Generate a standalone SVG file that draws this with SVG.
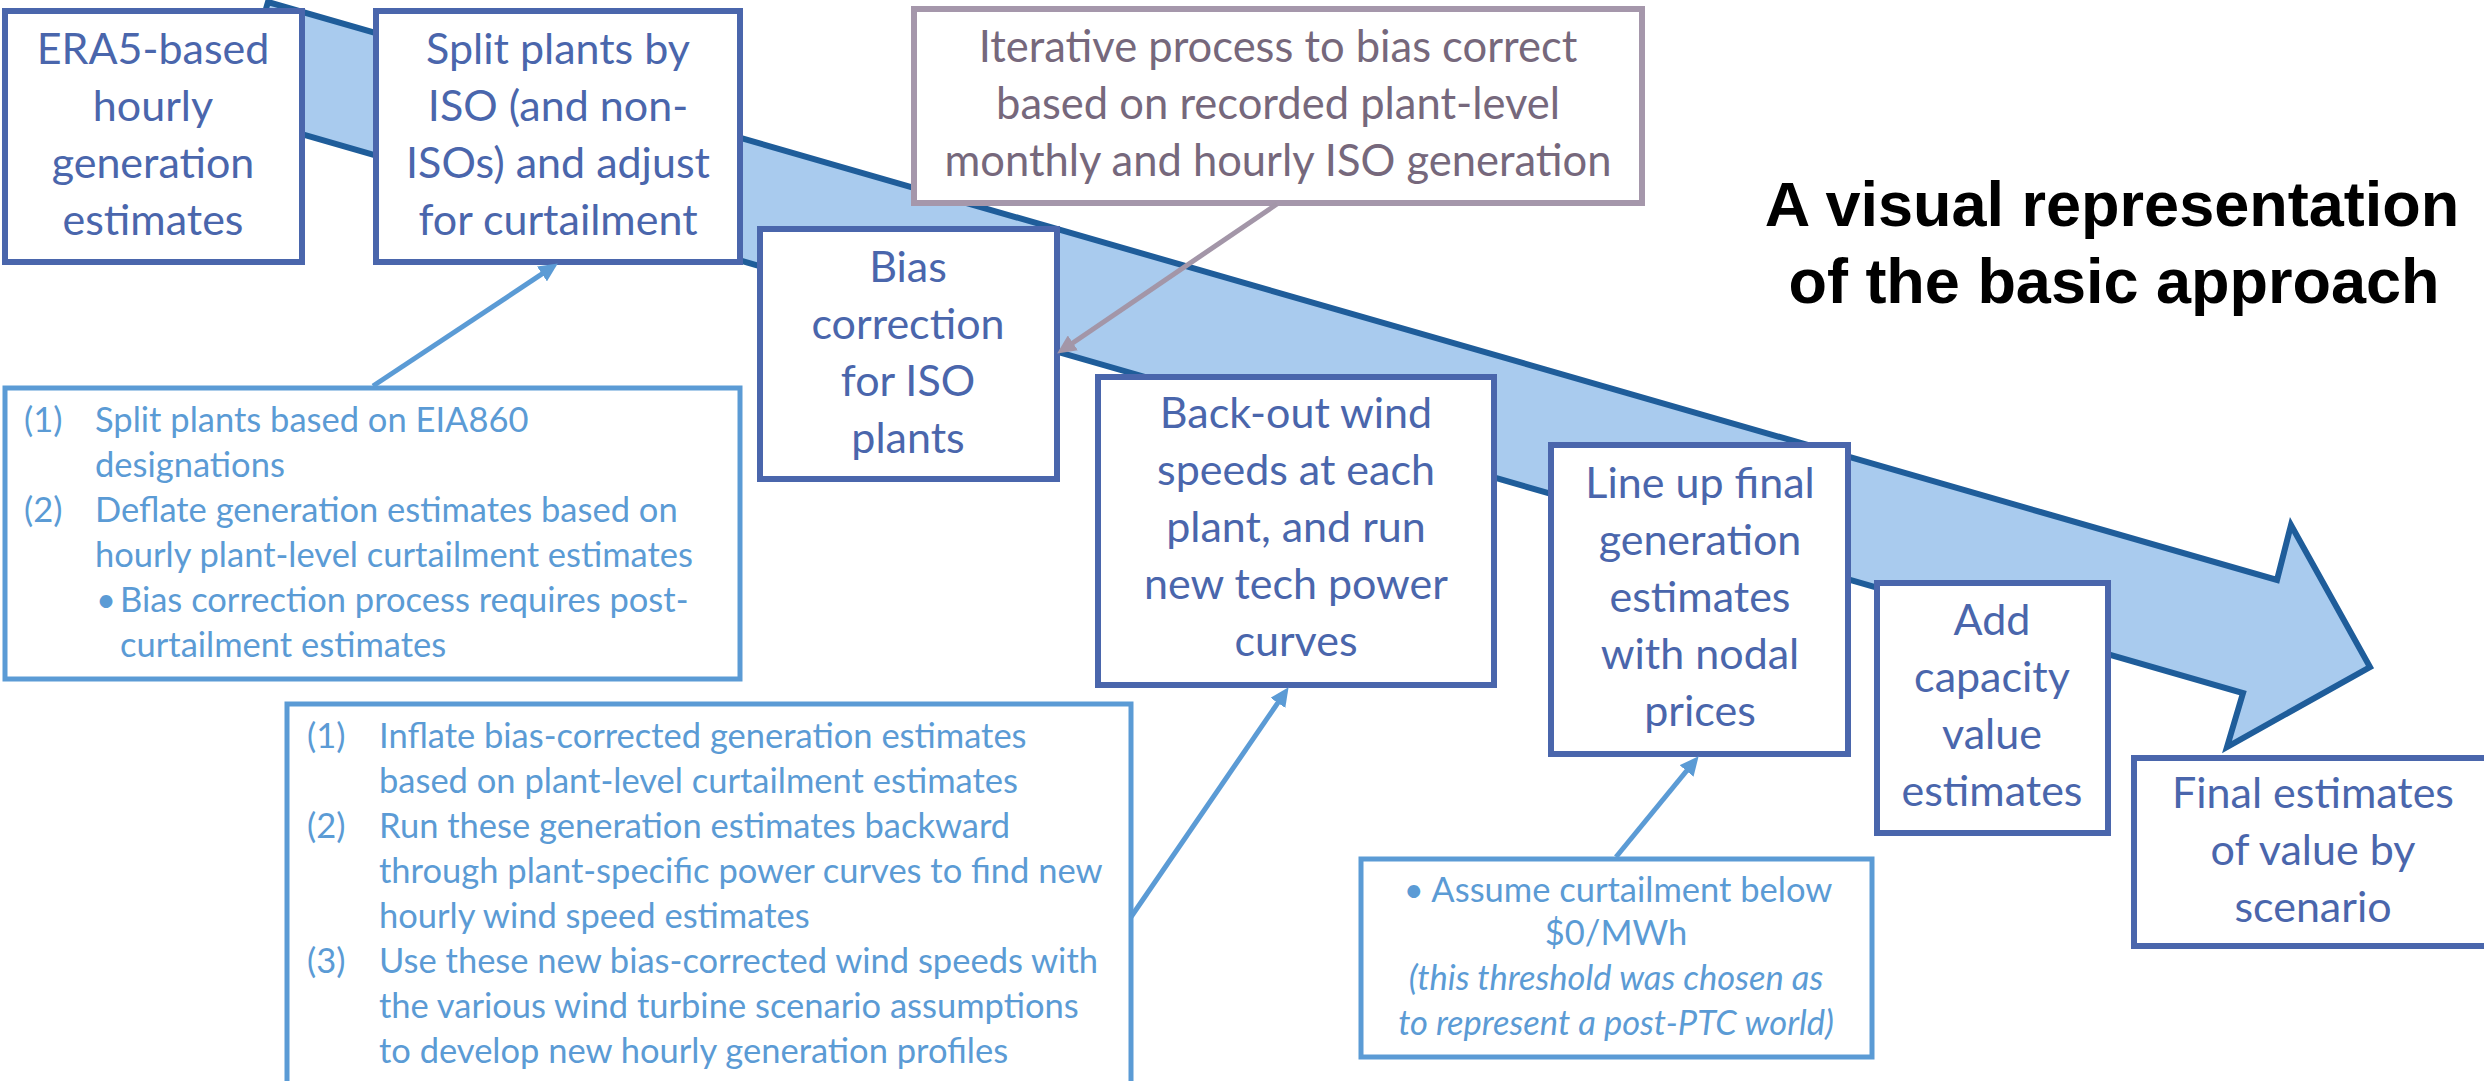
<svg xmlns="http://www.w3.org/2000/svg" width="2484" height="1081" viewBox="0 0 2484 1081">
  <style>
    .box { fill: #ffffff; stroke: #4A66AC; stroke-width: 6; }
    .note { fill: #ffffff; stroke: #5B9BD5; stroke-width: 5; }
    .iter { fill: #ffffff; stroke: #A597AB; stroke-width: 6; }
    .lbl { font-family: Lato, "Open Sans", sans-serif; font-size: 43px; fill: #4A66AC; text-anchor: middle; }
    .ilbl { font-family: Lato, "Open Sans", sans-serif; font-size: 43.5px; fill: #76687C; text-anchor: middle; }
    .nt { font-family: Lato, "Open Sans", sans-serif; font-size: 34.5px; fill: #5B9BD5; }
    .ntc { font-family: Lato, "Open Sans", sans-serif; font-size: 34.5px; fill: #5B9BD5; text-anchor: middle; }
    .it { font-style: italic; }
    .title { font-family: "Liberation Sans", Arial, sans-serif; font-size: 63px; font-weight: bold; fill: #000000; text-anchor: middle; }
    .conn { fill: none; stroke: #5B9BD5; stroke-width: 5; }
    .conn-g { fill: none; stroke: #A396A8; stroke-width: 5; }
  </style>
  <defs>
    <marker id="head-blue" markerUnits="userSpaceOnUse" markerWidth="20" markerHeight="18" refX="10" refY="9" orient="auto">
      <path d="M0,0 L19,9 L0,18 z" fill="#5B9BD5"/>
    </marker>
    <marker id="head-grey" markerUnits="userSpaceOnUse" markerWidth="20" markerHeight="18" refX="10" refY="9" orient="auto">
      <path d="M0,0 L19,9 L0,18 z" fill="#A396A8"/>
    </marker>
  </defs>

  <rect width="2484" height="1081" fill="#ffffff"/>

  <!-- process flow band -->
  <g id="flow-arrow">
    <polygon points="268,2 2277,580 2291,525 2370,667 2227,747 2243,693 235,115" fill="#A9CBEE" stroke="#1F5D9A" stroke-width="6" stroke-linejoin="miter"/>
  </g>

  <!-- main process steps -->
  <g id="era5">
    <rect class="box" x="5" y="11" width="297" height="251"/>
    <text class="lbl" x="153"><tspan x="153" y="64">ERA5-based</tspan><tspan x="153" y="121">hourly</tspan><tspan x="153" y="178">generation</tspan><tspan x="153" y="235">estimates</tspan></text>
  </g>
  <g id="split">
    <rect class="box" x="376" y="11" width="364" height="251"/>
    <text class="lbl" x="558"><tspan x="558" y="64">Split plants by</tspan><tspan x="558" y="121">ISO (and non-</tspan><tspan x="558" y="178">ISOs) and adjust</tspan><tspan x="558" y="235">for curtailment</tspan></text>
  </g>
  <g id="iterative">
    <rect class="iter" x="914" y="9" width="728" height="194"/>
    <text class="ilbl" x="1278"><tspan x="1278" y="62">Iterative process to bias correct</tspan><tspan x="1278" y="119">based on recorded plant-level</tspan><tspan x="1278" y="176">monthly and hourly ISO generation</tspan></text>
  </g>
  <g id="bias">
    <rect class="box" x="760" y="229" width="297" height="250"/>
    <text class="lbl" x="908"><tspan x="908" y="282">Bias</tspan><tspan x="908" y="339">correction</tspan><tspan x="908" y="396">for ISO</tspan><tspan x="908" y="453">plants</tspan></text>
  </g>
  <g id="backout">
    <rect class="box" x="1098" y="377" width="396" height="308"/>
    <text class="lbl" x="1296"><tspan x="1296" y="428">Back-out wind</tspan><tspan x="1296" y="485">speeds at each</tspan><tspan x="1296" y="542">plant, and run</tspan><tspan x="1296" y="599">new tech power</tspan><tspan x="1296" y="656">curves</tspan></text>
  </g>
  <g id="lineup">
    <rect class="box" x="1551" y="445" width="297" height="309"/>
    <text class="lbl" x="1700"><tspan x="1700" y="498">Line up final</tspan><tspan x="1700" y="555">generation</tspan><tspan x="1700" y="612">estimates</tspan><tspan x="1700" y="669">with nodal</tspan><tspan x="1700" y="726">prices</tspan></text>
  </g>
  <g id="capacity">
    <rect class="box" x="1877" y="583" width="231" height="250"/>
    <text class="lbl" x="1992"><tspan x="1992" y="635">Add</tspan><tspan x="1992" y="692">capacity</tspan><tspan x="1992" y="749">value</tspan><tspan x="1992" y="806">estimates</tspan></text>
  </g>
  <g id="final">
    <rect class="box" x="2134" y="758" width="360" height="188"/>
    <text class="lbl" x="2313"><tspan x="2313" y="808">Final estimates</tspan><tspan x="2313" y="865">of value by</tspan><tspan x="2313" y="922">scenario</tspan></text>
  </g>

  <!-- explanatory notes -->
  <g id="note-split">
    <rect class="note" x="5" y="388" width="735" height="291"/>
    <text class="nt"><tspan x="24" y="432">(1)</tspan><tspan x="95" y="432">Split plants based on EIA860</tspan><tspan x="95" y="477">designations</tspan><tspan x="24" y="522">(2)</tspan><tspan x="95" y="522">Deflate generation estimates based on</tspan><tspan x="95" y="567">hourly plant-level curtailment estimates</tspan><tspan x="96" y="612">•</tspan><tspan x="120" y="612">Bias correction process requires post-</tspan><tspan x="120" y="657">curtailment estimates</tspan></text>
  </g>
  <g id="note-backout">
    <rect class="note" x="287" y="704" width="844" height="420"/>
    <text class="nt"><tspan x="307" y="748">(1)</tspan><tspan x="379" y="748">Inflate bias-corrected generation estimates</tspan><tspan x="379" y="793">based on plant-level curtailment estimates</tspan><tspan x="307" y="838">(2)</tspan><tspan x="379" y="838">Run these generation estimates backward</tspan><tspan x="379" y="883">through plant-specific power curves to find new</tspan><tspan x="379" y="928">hourly wind speed estimates</tspan><tspan x="307" y="973">(3)</tspan><tspan x="379" y="973">Use these new bias-corrected wind speeds with</tspan><tspan x="379" y="1018">the various wind turbine scenario assumptions</tspan><tspan x="379" y="1063">to develop new hourly generation profiles</tspan></text>
  </g>
  <g id="note-lineup">
    <rect class="note" x="1361" y="859" width="511" height="198"/>
    <text class="ntc"><tspan x="1618" y="902">•  Assume curtailment below</tspan><tspan x="1616" y="945">$0/MWh</tspan><tspan class="it" x="1616" y="990">(this threshold was chosen as</tspan><tspan class="it" x="1616" y="1035">to represent a post-PTC world)</tspan></text>
  </g>

  <!-- heading -->
  <g id="heading">
    <text class="title"><tspan x="2112" y="226">A visual representation</tspan><tspan x="2114" y="303">of the basic approach</tspan></text>
  </g>

  <!-- connectors -->
  <g id="connectors">
    <path class="conn" d="M373,386 L550.3,268.4" marker-end="url(#head-blue)"/>
    <path class="conn" d="M1131,917 L1283.5,694.6" marker-end="url(#head-blue)"/>
    <path class="conn" d="M1616,857 L1692.9,763.2" marker-end="url(#head-blue)"/>
    <path class="conn-g" d="M1277,204 L1064.6,348.5" marker-end="url(#head-grey)"/>
  </g>
</svg>
